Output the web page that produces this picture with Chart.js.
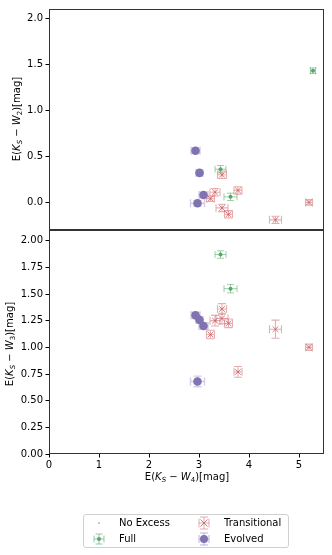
<!DOCTYPE html>
<html>
<head>
<meta charset="utf-8">
<script src="https://cdn.jsdelivr.net/npm/chart.js@4.4.1/dist/chart.umd.min.js"></script>
<style>
  html, body { margin: 0; padding: 0; background: #fff; }
  #wrap { position: relative; width: 332px; height: 555px; overflow: hidden; font-family: "DejaVu Sans", sans-serif; color: #000; }
  canvas { position: absolute; left: 0; }
  .ttl { position: absolute; font-size: 10px; white-space: nowrap; line-height: 12px; }
  .ttl sub { font-size: 7px; vertical-align: -2px; line-height: 0; }
  .ytl { transform: translate(-50%, -50%) rotate(-90deg); }
  .xtl { transform: translate(-50%, -50%); }
  #legend { position: absolute; left: 83px; top: 514px; width: 206px; height: 34px; border: 1px solid #d0d0d0; border-radius: 3px; box-sizing: border-box; font-size: 10px; }
  .li { position: absolute; height: 14px; line-height: 14px; }
  .li svg { position: absolute; left: 0; top: 0; }
  .li span { position: absolute; left: 28px; top: 0; white-space: nowrap; }
</style>
</head>
<body>
<div id="wrap">
  <canvas id="top" width="332" height="240" style="top:0px"></canvas>
  <canvas id="bot" width="332" height="270" style="top:220px"></canvas>
  <div class="ttl ytl" style="left:17px; top:119px">E(<i>K</i><sub><i>S</i></sub> − <i>W</i><sub>2</sub>)[mag]</div>
  <div class="ttl ytl" style="left:10px; top:344px">E(<i>K</i><sub><i>S</i></sub> − <i>W</i><sub>3</sub>)[mag]</div>
  <div class="ttl xtl" style="left:187px; top:477px">E(<i>K</i><sub><i>S</i></sub> − <i>W</i><sub>4</sub>)[mag]</div>
  <div id="legend">
    <div class="li" style="left:7px; top:1px">
      <svg width="20" height="14"><circle cx="8" cy="7" r="0.7" fill="#4c72b0"/></svg><span>No Excess</span>
    </div>
    <div class="li" style="left:7px; top:17px">
      <svg width="20" height="14"><g stroke="rgba(85,168,104,0.6)" stroke-width="1"><line x1="3" y1="7" x2="13" y2="7"/><line x1="8" y1="2" x2="8" y2="12"/><line x1="3" y1="3.5" x2="3" y2="10.5"/><line x1="13" y1="3.5" x2="13" y2="10.5"/><line x1="4.5" y1="2" x2="11.5" y2="2"/><line x1="4.5" y1="12" x2="11.5" y2="12"/></g><circle cx="8" cy="7" r="2" fill="#55a868"/></svg><span>Full</span>
    </div>
    <div class="li" style="left:112px; top:1px">
      <svg width="20" height="14"><g stroke="rgba(196,78,82,0.45)" stroke-width="1"><line x1="3" y1="7" x2="13" y2="7"/><line x1="8" y1="1" x2="8" y2="13"/><line x1="3" y1="2.5" x2="3" y2="11.5"/><line x1="13" y1="2.5" x2="13" y2="11.5"/><line x1="4" y1="1" x2="12" y2="1"/><line x1="4" y1="13" x2="12" y2="13"/></g><g stroke="rgba(196,78,82,0.75)" stroke-width="1"><line x1="4.5" y1="3.5" x2="11.5" y2="10.5"/><line x1="11.5" y1="3.5" x2="4.5" y2="10.5"/></g></svg><span>Transitional</span>
    </div>
    <div class="li" style="left:112px; top:17px">
      <svg width="20" height="14"><g stroke="rgba(129,114,178,0.4)" stroke-width="1.3"><line x1="3" y1="7" x2="13" y2="7"/><line x1="8" y1="1" x2="8" y2="13"/><line x1="3" y1="3" x2="3" y2="11"/><line x1="13" y1="3" x2="13" y2="11"/><line x1="4" y1="1" x2="12" y2="1"/><line x1="4" y1="13" x2="12" y2="13"/></g><circle cx="8" cy="7" r="4" fill="#8172b2"/></svg><span>Evolved</span>
    </div>
  </div>
</div>
<script>
// ---------------- data ----------------
const legendLabels = ["No Excess", "Full", "Transitional", "Evolved"];

// E(Ks-W4) values (shared x)
const fullX   = [3.43, 3.63, 5.28];
const fullW2  = [0.36, 0.06, 1.43];
const fullW3  = [1.87, 1.55, null];
const fullErrX  = [0.11, 0.13, 0.05];
const fullErrW2 = [0.04, 0.04, 0.03];
const fullErrW3 = [0.035, 0.04, 0];

const transX   = [3.23, 3.32, 3.46, 3.46, 3.59, 3.78, 4.53, 5.20];
const transW2  = [0.04, 0.11, 0.30, -0.06, -0.13, 0.13, -0.19, 0.00];
const transW3  = [1.12, 1.25, 1.36, 1.27, 1.225, 0.77, 1.17, 1.00];
const transErrX  = [0.08, 0.10, 0.09, 0.12, 0.08, 0.08, 0.12, 0.07];
const transErrW2 = [0.03, 0.04, 0.04, 0.04, 0.04, 0.04, 0.04, 0.03];
const transErrW3 = [0.04, 0.05, 0.05, 0.05, 0.04, 0.05, 0.085, 0.03];

const evolX   = [2.93, 3.01, 3.09, 2.97];
const evolW2  = [0.56, 0.32, 0.08, -0.01];
const evolW3  = [1.30, 1.257, 1.20, 0.68];
const evolErrX  = [0.09, 0.07, 0.09, 0.14];
const evolErrW2 = [0.03, 0.03, 0.03, 0.03];
const evolErrW3 = [0.03, 0.03, 0.03, 0.05];

const noExcessX = [];
const noExcessY = [];

const xTicks  = [0, 1, 2, 3, 4, 5];
const w2Ticks = [0.0, 0.5, 1.0, 1.5, 2.0];
const w3Ticks = [0.00, 0.25, 0.50, 0.75, 1.00, 1.25, 1.50, 1.75, 2.00];

// ---------------- helpers ----------------
const pts = (xs, ys) => xs.map((v, i) => ({ x: v, y: ys[i] }));
const FONT = { family: "DejaVu Sans", size: 10 };

const errorBars = {
  id: 'errorBars',
  beforeDatasetsDraw(chart) {
    const { ctx, chartArea, scales: { x, y } } = chart;
    ctx.save();
    ctx.beginPath();
    ctx.rect(chartArea.left, chartArea.top, chartArea.width, chartArea.height);
    ctx.clip();
    chart.data.datasets.forEach(ds => {
      if (!ds.errX) return;
      ds.data.forEach((p, j) => {
        if (p.y == null) return;
        const px = x.getPixelForValue(p.x), py = y.getPixelForValue(p.y);
        const x0 = x.getPixelForValue(p.x - ds.errX[j]), x1 = x.getPixelForValue(p.x + ds.errX[j]);
        const y0 = y.getPixelForValue(p.y - ds.errY[j]), y1 = y.getPixelForValue(p.y + ds.errY[j]);
        const c = ds.capSize;
        ctx.strokeStyle = ds.errColor;
        ctx.lineWidth = ds.errWidth;
        ctx.beginPath();
        ctx.moveTo(x0, py); ctx.lineTo(x1, py);
        ctx.moveTo(px, y0); ctx.lineTo(px, y1);
        ctx.moveTo(x0, py - c); ctx.lineTo(x0, py + c);
        ctx.moveTo(x1, py - c); ctx.lineTo(x1, py + c);
        ctx.moveTo(px - c, y0); ctx.lineTo(px + c, y0);
        ctx.moveTo(px - c, y1); ctx.lineTo(px + c, y1);
        ctx.stroke();
      });
    });
    ctx.restore();
  }
};

const frame = {
  id: 'frame',
  afterDraw(chart) {
    const { ctx, chartArea: a } = chart;
    ctx.save();
    ctx.strokeStyle = '#333';
    ctx.lineWidth = 1;
    ctx.strokeRect(Math.round(a.left) + 0.5, Math.round(a.top) + 0.5, Math.round(a.right - a.left) - 1, Math.round(a.bottom - a.top) - 1);
    ctx.restore();
  }
};

function datasets(wY, errFull, errTrans, errEvol) {
  return [
    { label: legendLabels[0], data: pts(noExcessX, noExcessY), pointRadius: 0.7, backgroundColor: '#4c72b0', borderWidth: 0 },
    { label: legendLabels[1], data: pts(fullX, wY.full), errX: fullErrX, errY: errFull,
      errColor: 'rgba(85,168,104,0.55)', errWidth: 1, capSize: 3.5,
      pointStyle: 'circle', pointRadius: 2, backgroundColor: '#55a868', borderWidth: 0 },
    { label: legendLabels[2], data: pts(transX, wY.trans), errX: transErrX, errY: errTrans,
      errColor: 'rgba(196,78,82,0.45)', errWidth: 1.1, capSize: 4,
      pointStyle: 'crossRot', pointRadius: 4, borderColor: 'rgba(196,78,82,0.75)', borderWidth: 1, backgroundColor: 'rgba(196,78,82,0.75)' },
    { label: legendLabels[3], data: pts(evolX, wY.evol), errX: evolErrX, errY: errEvol,
      errColor: 'rgba(129,114,178,0.35)', errWidth: 1.4, capSize: 4,
      pointStyle: 'circle', pointRadius: 4.3, backgroundColor: '#8172b2', borderWidth: 0 }
  ];
}

function yScale(min, max, ticks, digits, width) {
  return {
    type: 'linear', min, max,
    afterBuildTicks: s => { s.ticks = ticks.map(v => ({ value: v })); },
    afterFit: s => { s.width = width; },
    ticks: { font: FONT, color: '#000', padding: 2.5, callback: v => Number(v).toFixed(digits) },
    grid: { display: true, drawOnChartArea: false, drawTicks: true, tickLength: 3.5, color: '#000', tickWidth: 1 },
    border: { display: false }
  };
}

const common = {
  responsive: false, animation: false, devicePixelRatio: 1,
  plugins: { legend: { display: false }, tooltip: { enabled: false } },
};

// top canvas: 0..240, plot area y 8..230
new Chart(document.getElementById('top'), {
  type: 'scatter',
  data: { datasets: datasets({ full: fullW2, trans: transW2, evol: evolW2 }, fullErrW2, transErrW2, evolErrW2) },
  options: Object.assign({}, common, {
    layout: { padding: { top: 9, right: 8, left: 0, bottom: 10 }, autoPadding: false },
    scales: {
      x: { type: 'linear', min: 0, max: 5.5, display: false },
      y: yScale(-0.3, 2.1, w2Ticks, 1, 49)
    }
  }),
  plugins: [errorBars, frame]
});

// bottom canvas: 220..490, plot area y 231..454
new Chart(document.getElementById('bot'), {
  type: 'scatter',
  data: { datasets: datasets({ full: fullW3, trans: transW3, evol: evolW3 }, fullErrW3, transErrW3, evolErrW3) },
  options: Object.assign({}, common, {
    layout: { padding: { top: 10, right: 8, left: 0, bottom: 0 }, autoPadding: false },
    scales: {
      x: {
        type: 'linear', min: 0, max: 5.5,
        afterBuildTicks: s => { s.ticks = xTicks.map(v => ({ value: v })); },
        afterFit: s => { s.height = 36; },
        ticks: { font: FONT, color: '#000', padding: 1.5, callback: v => String(v) },
        grid: { display: true, drawOnChartArea: false, drawTicks: true, tickLength: 3.5, color: '#000' },
        border: { display: false }
      },
      y: yScale(0, 2.1, w3Ticks, 2, 49)
    }
  }),
  plugins: [errorBars, frame]
});
</script>
</body>
</html>
